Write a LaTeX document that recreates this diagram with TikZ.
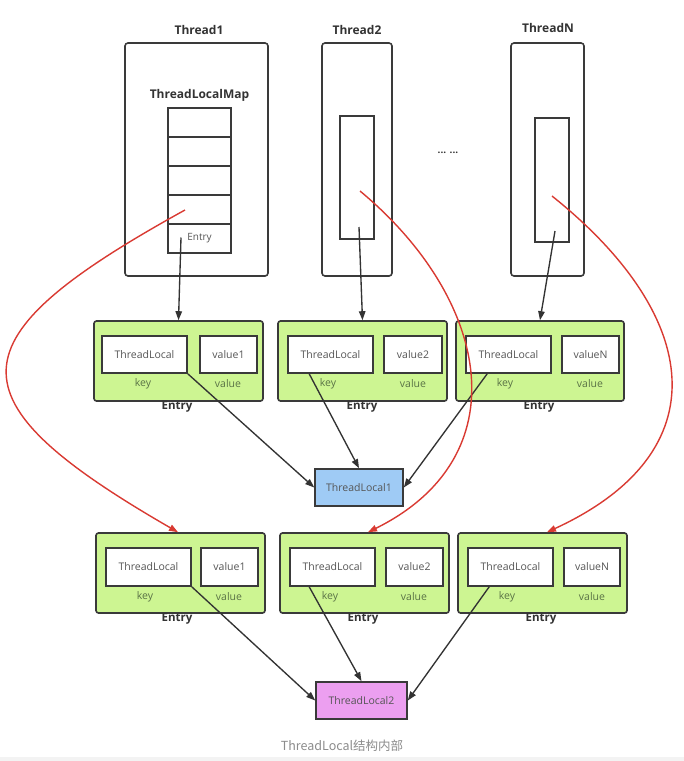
\documentclass[tikz,border=0pt]{standalone}
\usepackage{fontspec}
\setmainfont{Open Sans}
\newfontfamily\cjkfont{Noto Sans CJK SC}
\usetikzlibrary{arrows.meta,calc}
\definecolor{bc}{HTML}{3A3A3A}
\definecolor{lc}{HTML}{333333}
\definecolor{txt}{HTML}{555555}
\definecolor{titc}{HTML}{333333}
\definecolor{keyc}{HTML}{5A7346}
\definecolor{entg}{HTML}{CDF592}
\definecolor{tlblue}{HTML}{9FCBF5}
\definecolor{tlviolet}{HTML}{EC9FF0}
\definecolor{redc}{HTML}{D93A32}
\definecolor{capc}{HTML}{8C8C8C}
\definecolor{bandc}{HTML}{F3F3F3}
\tikzset{
  thr/.style={draw=bc, line width=1.6pt, rounded corners=3pt, inner sep=0pt, minimum height=233pt},
  cell/.style={draw=bc, line width=1.6pt, inner sep=0pt, minimum width=63pt, minimum height=29pt, font=\fontsize{10}{12}\selectfont, text=txt},
  inner/.style={draw=bc, line width=1.5pt, inner sep=0pt, minimum width=34pt},
  entrybox/.style={draw=bc, fill=entg, line width=1.6pt, rounded corners=2.5pt, inner sep=0pt, minimum width=169pt, minimum height=80pt},
  tlbox/.style={draw=bc, fill=white, line width=1.6pt, inner sep=0pt, minimum width=85pt, font=\fontsize{10.5}{12}\selectfont, text=txt},
  valbox/.style={draw=bc, fill=white, line width=1.6pt, inner sep=0pt, minimum width=57pt, font=\fontsize{10.5}{12}\selectfont, text=txt},
  lbl/.style={inner sep=0pt, font=\fontsize{10.5}{12}\selectfont, text=keyc},
  ttl/.style={inner sep=0pt, font=\fontsize{11.5}{13}\selectfont\bfseries, text=titc},
  tlnode/.style={draw=bc, line width=1.6pt, inner sep=0pt, minimum height=37pt, font=\fontsize{10.5}{12}\selectfont, text=txt},
  blk/.style={draw=lc, line width=1.35pt, -{Triangle[length=9pt,width=6.5pt]}},
  redarr/.style={draw=redc, line width=1.4pt, -{Triangle[length=9pt,width=6.5pt]}}
}
\begin{document}
\begin{tikzpicture}[x=1pt,y=-1pt]
\useasboundingbox (0,0) rectangle (684,761);
\fill[white] (0,0) rectangle (684,761);
\fill[bandc] (0,757) rectangle (684,761);

% Threads
\node[thr, minimum width=143pt] (th1) at (196.5,159.5) {};
\node[thr, minimum width=70pt] (th2) at (357,159.5) {};
\node[thr, minimum width=73pt] (thn) at (547.5,159.5) {};
\node[ttl, font=\fontsize{12}{14}\selectfont\bfseries] (th1l) at (199,30) {Thread1};
\node[ttl, font=\fontsize{12}{14}\selectfont\bfseries] (th2l) at (357,30) {Thread2};
\node[ttl, font=\fontsize{12}{14}\selectfont\bfseries] (thnl) at (548,28) {ThreadN};
\node[ttl, font=\fontsize{12}{14}\selectfont\bfseries] (mapl) at (199.5,95) {ThreadLocalMap};
\node[inner sep=0pt, font=\fontsize{10}{12}\selectfont\bfseries, text=titc] (dots) at (448,153) {... ...};

% Map cells
\node[cell] (m1) at (199.5,122.5) {};
\node[cell] (m2) at (199.5,151.5) {};
\node[cell] (m3) at (199.5,180.5) {};
\node[cell] (m4) at (199.5,209.5) {};
\node[cell] (m5) at (199.5,238.5) {Entry};

% inner rects
\node[inner, minimum height=123pt] (in2) at (357,177.5) {};
\node[inner, minimum height=124pt] (inn) at (552,180) {};

% Entries row 1
\node[entrybox] (e1a) at (178.5,361) {};
\node[entrybox] (e2a) at (362.5,361) {};
\node[entrybox, minimum width=168pt] (ena) at (540,361) {};
\node[tlbox, minimum height=37pt] (e1atl) at (144.5,354.5) {ThreadLocal};
\node[valbox, minimum height=37pt] (e1av) at (228.5,354.5) {value1};
\node[tlbox, minimum height=37pt] (e2atl) at (330.5,354.5) {ThreadLocal};
\node[valbox, minimum height=37pt, minimum width=58pt] (e2av) at (413,354.5) {value2};
\node[tlbox, minimum height=37pt] (enatl) at (508.5,354.5) {ThreadLocal};
\node[valbox, minimum height=37pt] (enav) at (590.5,354.5) {valueN};
\node[lbl] (k1a) at (143,384) {key};
\node[lbl] (v1a) at (228,384) {value};
\node[lbl] (k2a) at (328,384) {key};
\node[lbl] (v2a) at (413,384) {value};
\node[lbl] (kna) at (505,384) {key};
\node[lbl] (vna) at (590,384) {value};
\node[ttl] (t1a) at (177,407) {Entry};
\node[ttl] (t2a) at (362,407) {Entry};
\node[ttl] (tna) at (539,407) {Entry};

% Entries row 2
\node[entrybox] (e1b) at (180.5,573) {};
\node[entrybox] (e2b) at (364.5,573) {};
\node[entrybox] (enb) at (542.5,573) {};
\node[tlbox, minimum height=38pt] (e1btl) at (148.5,567) {ThreadLocal};
\node[valbox, minimum height=38pt] (e1bv) at (229.5,567) {value1};
\node[tlbox, minimum height=38pt] (e2btl) at (332.5,567) {ThreadLocal};
\node[valbox, minimum height=38pt] (e2bv) at (414.5,567) {value2};
\node[tlbox, minimum height=38pt] (enbtl) at (510.5,567) {ThreadLocal};
\node[valbox, minimum height=38pt, minimum width=56pt] (enbv) at (592,567) {valueN};
\node[lbl] (k1b) at (145,597) {key};
\node[lbl] (v1b) at (229,597) {value};
\node[lbl] (k2b) at (330,597) {key};
\node[lbl] (v2b) at (414,597) {value};
\node[lbl] (knb) at (507,597) {key};
\node[lbl] (vnb) at (592,597) {value};
\node[ttl] (t1b) at (177,619) {Entry};
\node[ttl] (t2b) at (363,619) {Entry};
\node[ttl] (tnb) at (541,619) {Entry};

% ThreadLocal1/2
\node[tlnode, fill=tlblue, minimum width=88pt] (tl1) at (359,487.5) {ThreadLocal1};
\node[tlnode, fill=tlviolet, minimum width=91pt] (tl2) at (361.5,700.5) {ThreadLocal2};

% caption
\node[inner sep=0pt, font=\cjkfont\fontsize{12.5}{14}\selectfont, text=capc] (cap) at (342,746) {ThreadLocal结构内部};

% start coordinates
\coordinate (s1) at ($(m5.center)+(-18.5,-1)$);
\coordinate (s2) at ($(in2.center)+(2,49.5)$);
\coordinate (sn) at ($(inn.center)+(3,51)$);
\coordinate (r1) at ($(m4.center)+(-14.5,0.5)$);
\coordinate (r2) at ($(in2.center)+(3,13.5)$);
\coordinate (rn) at ($(inn.center)+(0,16)$);

% black arrows thread -> entry
\draw[blk] (s1) -- (e1a.north);
\draw[blk] (s2) -- (e2a.north);
\draw[blk] (sn) -- (ena.north);

% black arrows keys -> ThreadLocal1
\draw[blk] (e1atl.south east) -- (tl1.west);
\draw[blk] ($(e2atl.south west)+(22,0)$) -- (tl1.north);
\draw[blk] ($(enatl.south west)+(22,0)$) -- (tl1.east);

% black arrows keys -> ThreadLocal2
\draw[blk] (e1btl.south east) -- (tl2.west);
\draw[blk] ($(e2btl.south west)+(20,0)$) -- (tl2.north);
\draw[blk] ($(enbtl.south west)+(22,0)$) -- (tl2.east);

% red curves
\draw[redarr] (r1) .. controls (-49,339) and (-53,399) .. ($(e1b.north)+(-2.5,0)$);
\draw[redarr] (r2) .. controls (491,300) and (520,457) .. ($(e2b.north)+(3.5,0)$);
\draw[redarr] (rn) .. controls (702,316) and (721,452) .. ($(enb.north)+(4.5,0)$);
\end{tikzpicture}
\end{document}
